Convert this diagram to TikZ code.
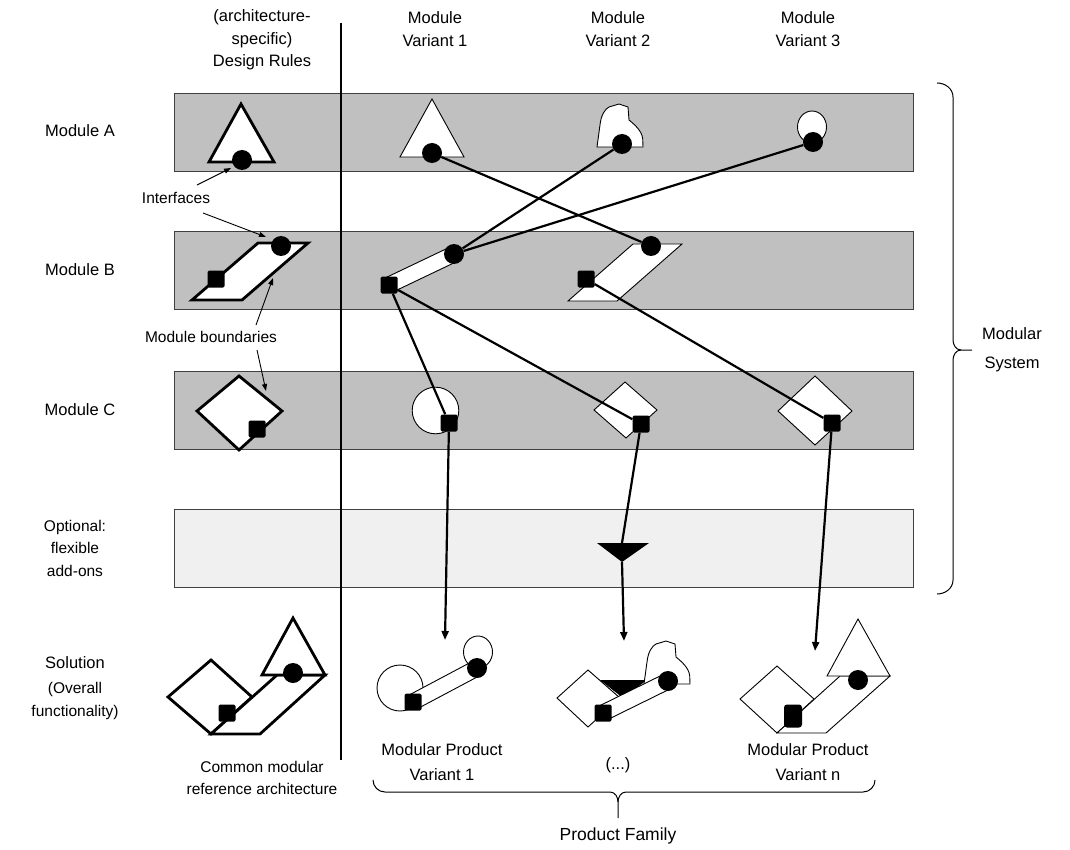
\documentclass[tikz,border=0pt]{standalone}
\usepackage{fontspec}
\setmainfont{Liberation Sans}
\usetikzlibrary{arrows.meta,calc}
\definecolor{bandgray}{HTML}{C0C0C0}
\definecolor{optgray}{HTML}{F0F0F0}
\definecolor{edgegray}{HTML}{404040}
\pgfdeclarelayer{bg}
\pgfdeclarelayer{mid}
\pgfsetlayers{bg,mid,main}
% white bar joining a port (square) and an interface (circle)
\newcommand\linkbar[2]{%
  \path[fine] ($(#1.center)!8pt!90:(#2.center)$) -- ($(#2.center)!8pt!-90:(#1.center)$)
    -- ($(#2.center)!8pt!90:(#1.center)$) -- ($(#1.center)!8pt!-90:(#2.center)$) -- cycle;}
\tikzset{
  band/.style={draw=edgegray,line width=0.9pt,fill=bandgray},
  optband/.style={band,fill=optgray},
  bold/.style={draw=black,line width=2.8pt,fill=white,line join=miter},
  fine/.style={draw=black,line width=0.9pt,fill=white},
  ifc/.style={circle,fill=black,minimum size=20pt,inner sep=0pt},
  port/.style={rectangle,fill=black,minimum size=17pt,inner sep=0pt,rounded corners=1.5pt},
  conn/.style={line width=2.2pt},
  flow/.style={conn,-{Triangle[length=9pt,width=7pt]}},
  hint/.style={line width=0.9pt,-{Triangle[length=7pt,width=5pt]}},
  lbl/.style={font=\fontsize{16.5}{22.5}\selectfont,align=center,inner sep=0pt},
  lbl2/.style={font=\fontsize{16.5}{25}\selectfont,align=center,inner sep=0pt},
  sm/.style={font=\fontsize{15.5}{22.5}\selectfont,align=center,inner sep=0pt},
  blob/.pic={\path[fine] (0,0) -- (3,-22) .. controls (4,-32) and (8,-38) .. (12,-40)
     -- (22,-43) -- (31,-40) -- (32,-27) .. controls (38,-22) and (45,-16) .. (45.7,-8)
     -- (46,0) -- cycle;},
}
\begin{document}
\begin{tikzpicture}[x=1pt,y=-1pt]
\useasboundingbox (0,0) rectangle (1070,850);

% ---------- headings and row labels ----------
\node[lbl] (hdrDR) at (262,40) {(architecture-\\specific)\\Design Rules};
\node[lbl] (hdrV1) at (435,29) {Module\\Variant 1};
\node[lbl] (hdrV2) at (618,29) {Module\\Variant 2};
\node[lbl] (hdrV3) at (808,29) {Module\\Variant 3};
\node[lbl] (rowA) at (80,131) {Module A};
\node[lbl] (rowB) at (80,270) {Module B};
\node[lbl] (rowC) at (80,410) {Module C};
\node[sm] (rowO) at (75,548) {Optional:\\flexible\\add-ons};
\node[lbl] (rowS) at (75,663) {Solution};
\node[sm] (rowS2) at (75,701) {(Overall\\functionality)};
\node[sm] (tIfc) at (176,198) {Interfaces};
\node[sm] (tBnd) at (211,337) {Module boundaries};
\node[sm] (tRef) at (262,778) {Common modular\\reference architecture};
\node[lbl2] (tP1) at (442,762) {Modular Product\\Variant 1};
\node[lbl] (tPd) at (618,765) {(...)};
\node[lbl2] (tPn) at (808,762) {Modular Product\\Variant n};
\node[font=\fontsize{17.5}{22}\selectfont,inner sep=0pt] (tFam) at (618,836) {Product Family};
\node[font=\fontsize{16.5}{29}\selectfont,align=center,inner sep=0pt] (tSys) at (1012,350) {Modular\\System};

% ---------- interfaces (circles) and ports (squares) ----------
% design rules column
\node[ifc] (dA) at (242,160) {};
\node[ifc] (dBc) at (281,246) {};
\node[port] (dBs) at (216,279) {};
\node[port] (dCs) at (257,429) {};
% module variants
\node[ifc] (a1) at (432,153) {};
\node[ifc] (a2) at (622,144) {};
\node[ifc] (a3) at (813,142) {};
\node[ifc] (b1c) at (454,254) {};
\node[port] (b1s) at (389,285) {};
\node[ifc] (b2c) at (651,246) {};
\node[port] (b2s) at (586,279) {};
\node[port] (c1) at (449,423) {};
\node[port] (c2) at (641,424) {};
\node[port] (c3) at (832,423) {};
% reference architecture
\node[ifc] (sA) at (293,673) {};
\node[port] (sS) at (227,713) {};
% product variants
\node[ifc] (q1c) at (477,668) {};
\node[port] (q1s) at (413,702) {};
\node[ifc] (q2c) at (668,681) {};
\node[port] (q2s) at (603,713) {};
\node[ifc] (q3c) at (858,680) {};
\node[port,minimum width=18pt,minimum height=23pt,rounded corners=3pt] (q3s) at (793,716) {};

\coordinate (addtop) at (622,543);
\coordinate (addbot) at (622,562);
\coordinate (p1) at (445,640);
\coordinate (p2) at (624,641);
\coordinate (p3) at (815,651);

\begin{pgfonlayer}{bg}
  \fill[white] (0,0) rectangle (1070,850);
  % module bands
  \path[band] (174,93) rectangle (913,171);
  \path[band] (174,231) rectangle (913,309);
  \path[band] (174,371) rectangle (913,449);
  \path[optband] (174,509) rectangle (913,587);
  % column divider
  \draw[line width=2pt] (341,23) -- (341,760);

  % design rules shapes
  \path[bold] (241,104) -- (274,162) -- (209,162) -- cycle;
  \path[bold] (192,300) -- (242,300) -- (308,243) -- (258,243) -- cycle;
  \path[bold] (197,411) -- (239,376) -- (282,411) -- (239,450) -- cycle;

  % module A variants
  \path[fine] (432,99) -- (464,157) -- (400,157) -- cycle;
  \pic at (597,147) {blob};
  \path[fine] (812,127) ellipse [x radius=14.5, y radius=16];
  % module B variant 2
  \path[fine] (568,301) -- (617,301) -- (682,244) -- (633,244) -- cycle;
  % module C variants
  \path[fine] (435.5,410.5) circle [radius=23.3];
  \path[fine] (594,410) -- (625,382) -- (657,410) -- (626,438) -- cycle;
  \path[fine] (778,411) -- (815,376) -- (852,411) -- (815,445) -- cycle;
  % optional add-on
  \fill (597,543) -- (649,543) -- (622,562) -- cycle;

  % reference architecture
  \path[bold] (168,697) -- (211,660) -- (252,697) -- (211,734) -- cycle;
  \path[bold] (211,734) -- (260,734) -- (325,675) -- (277,675) -- cycle;
  \path[bold] (293,618) -- (325,675) -- (262,675) -- cycle;

  % product variant 1
  \path[fine] (400,688) circle [radius=23];
  \path[fine] (478,652) ellipse [x radius=14.5, y radius=16];
  % product variant 2
  \path[fine] (557,698) -- (588,670) -- (620,698) -- (588,727) -- cycle;
  \fill (600,680) -- (647,680) -- (623,698) -- cycle;
  \pic at (644,684) {blob};
  % product variant n
  \path[fine] (740,699) -- (777,666) -- (814,699) -- (777,733) -- cycle;
  \path[fine] (777,733) -- (826,733) -- (890,676) -- (840,676) -- cycle;
  \path[fine] (858,619) -- (890,676) -- (827,676) -- cycle;
\end{pgfonlayer}

\begin{pgfonlayer}{mid}
  \linkbar{b1s}{b1c}
  \linkbar{q1s}{q1c}
  \linkbar{q2s}{q2c}
  % links between module variants
  \draw[conn] (a1) -- (b2c);
  \draw[conn] (a2) -- (b1c);
  \draw[conn] (a3) -- (b1c);
  \draw[conn] (b1s) -- (c1);
  \draw[conn] (b1s) -- (c2);
  \draw[conn] (b2s) -- (c3);
  \draw[flow] (c1) -- (p1);
  \draw[conn] (c2) -- (addtop);
  \draw[flow] (addbot) -- (p2);
  \draw[flow] (c3) -- (p3);
  % annotation arrows
  \draw[hint] (197,185) -- (231,168);
  \draw[hint] (203,213) -- (266,237);
  \draw[hint] (256,325) -- (273,278);
  \draw[hint] (257,350) -- (266,391);
  % braces
  \draw[line width=1pt] (937,83) to[out=0,in=90] (953,97) -- (953,340)
    to[out=-90,in=180] (961,350) -- (972,350);
  \draw[line width=1pt] (961,350) to[out=180,in=90] (953,360) -- (953,580)
    to[out=-90,in=0] (937,594);
  \draw[line width=1pt] (373,780) to[out=-90,in=180] (385,792) -- (610,792)
    to[out=0,in=90] (618,802) -- (618,818);
  \draw[line width=1pt] (618,802) to[out=90,in=180] (626,792) -- (863,792)
    to[out=0,in=-90] (875,780);
\end{pgfonlayer}
\end{tikzpicture}
\end{document}
